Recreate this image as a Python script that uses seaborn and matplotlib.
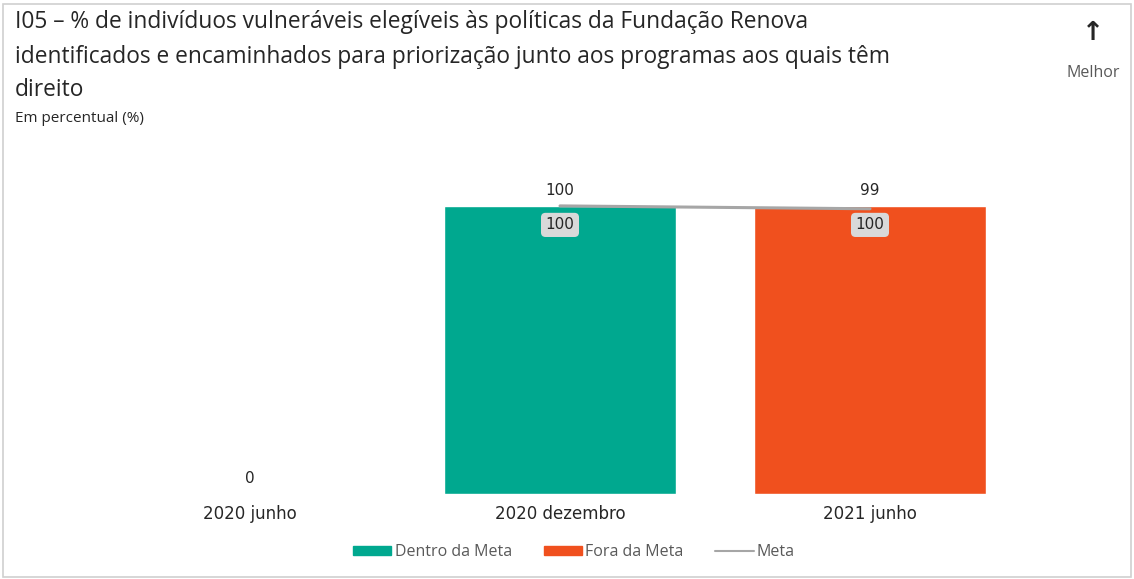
import matplotlib.pyplot as plt
import seaborn as sns
import numpy as np
import pandas as pd
from matplotlib.patches import Rectangle, Patch
from matplotlib.lines import Line2D

# data
periodos = ["2020 junho", "2020 dezembro", "2021 junho"]
resultado = [0, 100, 100]
status = ["Dentro da Meta", "Dentro da Meta", "Fora da Meta"]
meta = [np.nan, 100, 99]

cores = {"Dentro da Meta": "#00A88F", "Fora da Meta": "#F0501E"}
cor_meta = "#A6A6A6"
cor_texto = "#262626"

df = pd.DataFrame({"Periodo": periodos, "Resultado": resultado, "Status": status})

sns.set_style("white")
plt.rcParams["font.family"] = ["Open Sans", "DejaVu Sans"]

fig = plt.figure(figsize=(11.34, 5.79), dpi=100)
ax = fig.add_axes([95 / 1134, 1 - 494 / 579, 930 / 1134, 344 / 579])

sns.barplot(data=df, x="Periodo", y="Resultado", hue="Status", palette=cores,
            dodge=False, width=0.75, ax=ax, legend=False, saturation=1)

x = np.arange(len(periodos))
ax.plot(x, meta, color=cor_meta, lw=2.2, zorder=1)

for i, v in enumerate(resultado):
    if v > 0:
        ax.text(i, v - 6.6, f"{v:.0f}", ha="center", va="center", fontsize=11,
                family="DejaVu Sans", color=cor_texto,
                bbox=dict(boxstyle="round,pad=0.3,rounding_size=0.3",
                          fc="#D9D9D9", ec="none"))
# meta labels (bar value where there is no meta)
for i, m in enumerate(meta):
    val = resultado[i] if np.isnan(m) else m
    y = 100 if val > 90 else val
    ax.text(i, y + 5.3, f"{val:.0f}", ha="center", va="center",
            fontsize=11, family="DejaVu Sans", color=cor_texto)

ax.set_ylim(0, 119.4)
ax.set_xlim(-0.5, 2.5)
ax.set_xlabel("")
ax.set_ylabel("")
ax.set_yticks([])
ax.set_xticks(x, periodos, fontfamily="DejaVu Sans", fontsize=12, color=cor_texto)
ax.tick_params(axis="x", length=0, pad=8)
sns.despine(ax=ax, left=True, bottom=True)

# titles
fig.text(15 / 1134, 1 - 22 / 579, "I05 – % de indivíduos vulneráveis elegíveis às políticas da Fundação Renova",
         fontsize=16.4, color=cor_texto, va="center")
fig.text(15 / 1134, 1 - 57 / 579, "identificados e encaminhados para priorização junto aos programas aos quais têm",
         fontsize=16.4, color=cor_texto, va="center")
fig.text(15 / 1134, 1 - 90 / 579, "direito", fontsize=16.4, color=cor_texto, va="center")
fig.text(15 / 1134, 1 - 119 / 579, "Em percentual (%)", fontsize=11, color=cor_texto, va="center")
fig.text(1093 / 1134, 1 - 33 / 579, "↑", fontsize=19, color=cor_texto, ha="center", va="center",
         family="DejaVu Sans", weight="bold")
fig.text(1093 / 1134, 1 - 73 / 579, "Melhor", fontsize=11.5, color="#595959", ha="center", va="center")

handles = [Patch(color=cores["Dentro da Meta"], label="Dentro da Meta"),
           Patch(color=cores["Fora da Meta"], label="Fora da Meta"),
           Line2D([], [], color=cor_meta, lw=1.5, label="Meta")]
leg = fig.legend(handles=handles, loc="center", bbox_to_anchor=(574 / 1134, 1 - 552 / 579),
                 ncol=3, frameon=False, fontsize=11.5, handlelength=2.4, handleheight=0.45,
                 columnspacing=2.0, handletextpad=0.2, labelcolor="#595959")

fig.add_artist(Rectangle((3 / 1134, 2 / 579), 1128 / 1134, 573 / 579, transform=fig.transFigure,
                         fill=False, ec="#D0D0D0", lw=1.2))

fig.savefig("out.png", dpi=100)
